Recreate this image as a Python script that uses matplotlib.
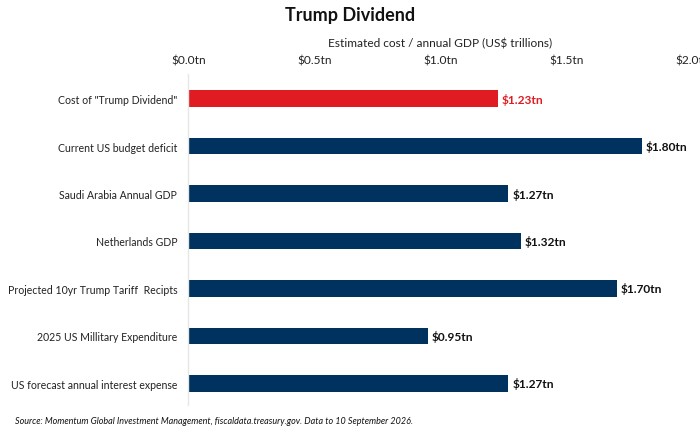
import matplotlib
matplotlib.use("Agg")
import matplotlib.pyplot as plt

# Dados
categorias = [
    'Cost of "Trump Dividend"',
    "Current US budget deficit",
    "Saudi Arabia Annual GDP",
    "Netherlands GDP",
    "Projected 10yr Trump Tariff  Recipts",
    "2025 US Millitary Expenditure",
    "US forecast annual interest expense",
]
valores = [1.23, 1.80, 1.27, 1.32, 1.70, 0.95, 1.27]
ticks = [0.0, 0.5, 1.0, 1.5, 2.0]
tick_labels = ["$0.0tn", "$0.5tn", "$1.0tn", "$1.5tn", "$2.0tn"]

vermelho = "#E11B22"
azul = "#00325F"
cores = [vermelho] + [azul] * (len(valores) - 1)

plt.rcParams["font.family"] = ["Lato", "DejaVu Sans"]

fig = plt.figure(figsize=(7.0, 4.35), dpi=100)
ax = fig.add_axes([0.269, 0.067, 0.72, 0.761])

y = list(range(len(categorias)))
ax.barh(y, valores, height=0.34, color=cores)
ax.set_ylim(6.45, -0.52)
ax.set_xlim(0, 2.0)

ax.set_yticks(y)
ax.set_yticklabels(categorias, fontsize=7.6, color="#222222")
ax.tick_params(axis="y", length=0, pad=8)

ax.xaxis.tick_top()
ax.set_xticks(ticks)
ax.set_xticklabels(tick_labels, fontsize=8.6, color="#222222")
ax.tick_params(axis="x", length=0, pad=6)
ax.set_xlabel("Estimated cost / annual GDP (US$ trillions)", fontsize=8.6, color="#222222", labelpad=6)
ax.xaxis.set_label_position("top")

for s in ["top", "right", "bottom"]:
    ax.spines[s].set_visible(False)
ax.spines["left"].set_color("#E6E6E6")
ax.spines["left"].set_linewidth(1)

for yi, v, c in zip(y, valores, cores):
    ax.text(v + 0.015, yi, f"${v:.2f}tn", va="center", ha="left",
            fontsize=8.6, fontweight="bold", color=c if c == vermelho else "#111111")

fig.text(0.5, 0.965, "Trump Dividend", ha="center", va="center",
         fontsize=13, fontweight="bold", color="#111111")
fig.text(0.021, 0.032,
         "Source: Momentum Global Investment Management, fiscaldata.treasury.gov. Data to 10 September 2026.",
         ha="left", va="center", fontsize=6.5, style="italic", color="#111111")

fig.savefig("out.png", dpi=100)
